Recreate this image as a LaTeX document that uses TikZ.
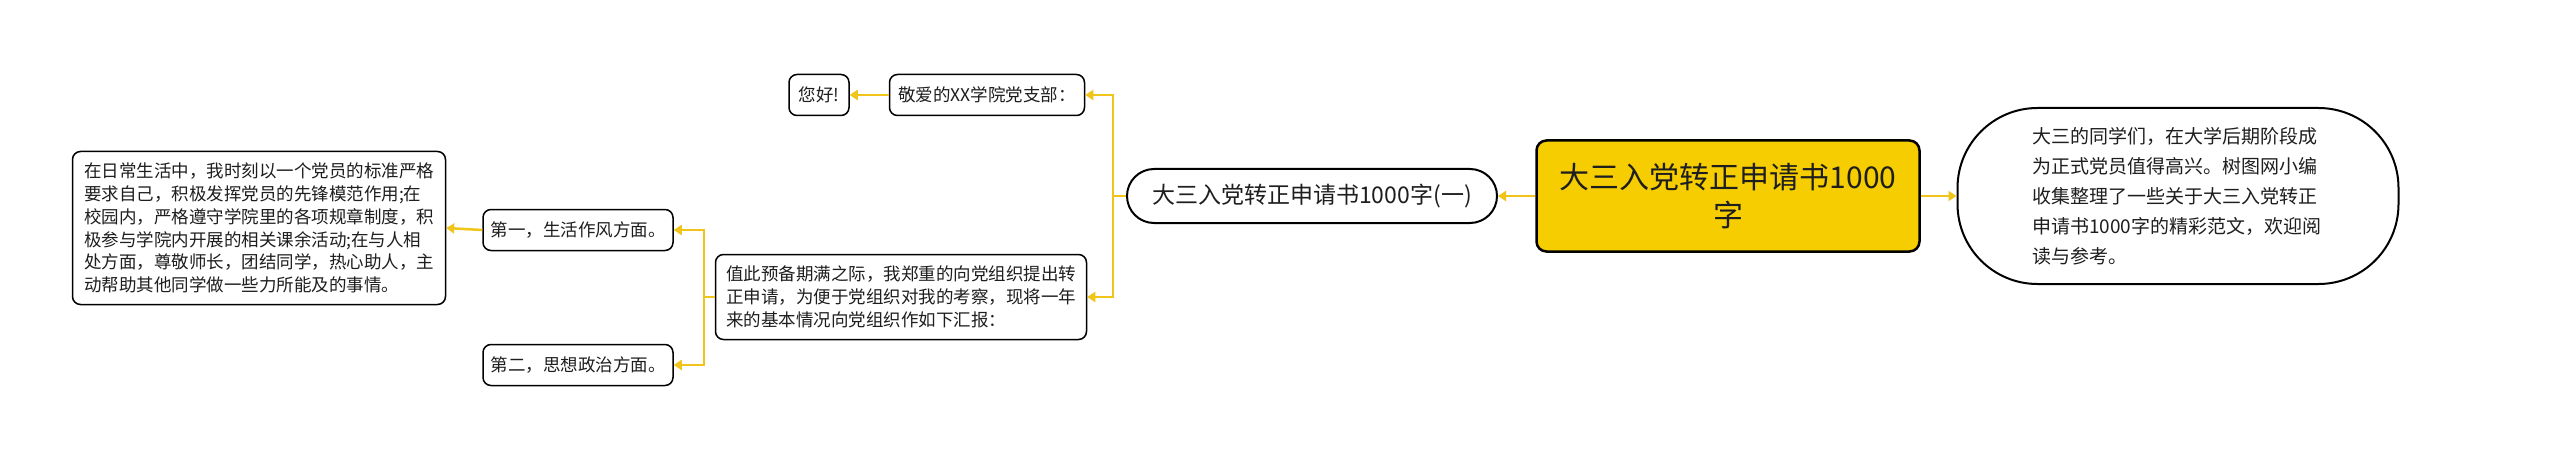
\documentclass[tikz,border=0pt]{standalone}
\usepackage{fontspec}
\setmainfont{Noto Sans CJK SC}
\usetikzlibrary{arrows.meta}

\begin{document}
\begin{tikzpicture}[x=0.5pt, y=-0.5pt,
    smallbox/.style={draw=black, line width=0.75pt, rounded corners=4pt, fill=white,
        inner sep=0pt, minimum height=20.5pt, text=textDark,
        font=\fontsize{8.75pt}{11.4pt}\selectfont},
    textbox/.style={smallbox, align=left, text width=175pt},
    pillbox/.style={draw=black, line width=1pt, rounded corners=13.5pt, fill=white,
        inner sep=0pt, minimum width=185pt, minimum height=27pt, text=textDark,
        font=\fontsize{11.5pt}{14pt}\selectfont},
    mainbox/.style={draw=black, line width=1.25pt, rounded corners=5pt, fill=mainYellow,
        inner sep=0pt, minimum width=191.5pt, minimum height=55.5pt, align=center,
        text=textDark, font=\fontsize{15pt}{19pt}\selectfont},
    introbox/.style={draw=black, line width=1pt, rounded corners=40pt, fill=white,
        inner sep=0pt, minimum width=220.5pt, minimum height=88pt, text width=146pt,
        align=left, text=textDark, font=\fontsize{9.5pt}{15pt}\selectfont},
    link/.style={draw=linkYellow, line width=1.25pt, -{Triangle[length=4pt, width=5pt]}}]

    \definecolor{mainYellow}{HTML}{F6CD00}
    \definecolor{linkYellow}{HTML}{F0C419}
    \definecolor{textDark}{HTML}{1E1E1E}

    \useasboundingbox (0,0) rectangle (2560,460);

    % Central topic and intro
    \node[mainbox] (main) at (1728,196) {大三入党转正申请书1000\\字};
    \node[introbox] (intro) at (2178,196) {大三的同学们，在大学后期阶段成\\为正式党员值得高兴。树图网小编\\收集整理了一些关于大三入党转正\\申请书1000字的精彩范文，欢迎阅\\读与参考。};

    % First branch
    \node[pillbox] (sub) at (1312,196) {大三入党转正申请书1000字(一)};
    \coordinate (subjoin) at (1113,196);

    \node[smallbox, minimum width=97.5pt] (dear) at (987,95) {敬爱的XX学院党支部：};
    \node[smallbox, minimum width=30pt] (hello) at (819,95) {您好!};
    \node[textbox, minimum width=185.5pt, minimum height=42.5pt] (intent) at (901,297) {值此预备期满之际，我郑重的向党组织提出转\\正申请，为便于党组织对我的考察，现将一年\\来的基本情况向党组织作如下汇报：};
    \coordinate (intentjoin) at (704,297);

    % Report items
    \node[smallbox, minimum width=95pt] (life) at (578,230) {第一，生活作风方面。};
    \node[smallbox, minimum width=95pt] (politics) at (578,365) {第二，思想政治方面。};
    \node[textbox, minimum width=186.5pt, minimum height=76.5pt] (lifetext) at (259,228) {在日常生活中，我时刻以一个党员的标准严格\\要求自己，积极发挥党员的先锋模范作用;在\\校园内，严格遵守学院里的各项规章制度，积\\极参与学院内开展的相关课余活动;在与人相\\处方面，尊敬师长，团结同学，热心助人，主\\动帮助其他同学做一些力所能及的事情。};

    % Connectors
    \draw[link] (main.west) -- (sub.east);
    \draw[link] (main.east) -- (intro.west);
    \draw[link] (sub.west) -- (subjoin) |- (dear.east);
    \draw[link] (sub.west) -- (subjoin) |- (intent.east);
    \draw[link] (dear.west) -- (hello.east);
    \draw[link] (intent.west) -- (intentjoin) |- (life.east);
    \draw[link] (intent.west) -- (intentjoin) |- (politics.east);
    \draw[link] (life.west) -- (lifetext.east);

\end{tikzpicture}
\end{document}
